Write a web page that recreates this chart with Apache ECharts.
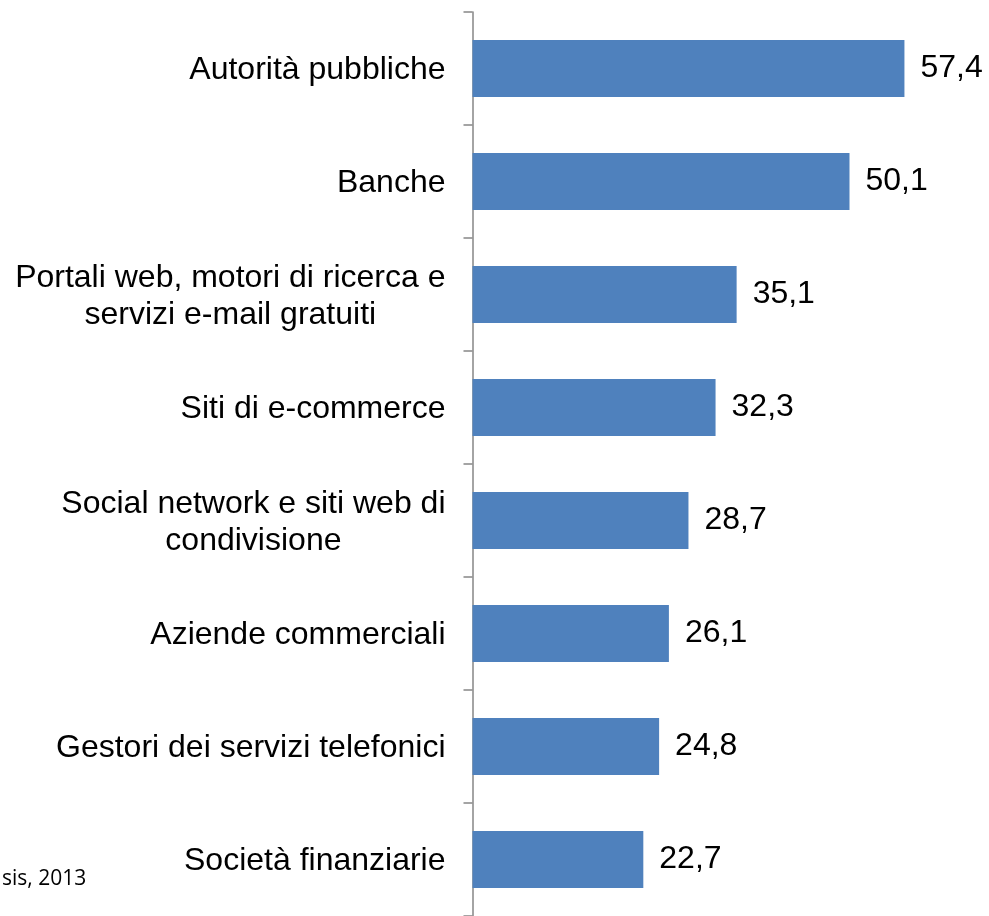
<!DOCTYPE html>
<html>
<head>
<meta charset="utf-8">
<script src="https://cdn.jsdelivr.net/npm/echarts@6/dist/echarts.min.js"></script>
<style>html,body{margin:0;padding:0;background:#fff}#c{width:989px;height:916px}</style>
</head>
<body>
<div id="c"></div>
<script>
const categories = [
  "Autorità pubbliche",
  "Banche",
  "Portali web, motori di ricerca e\nservizi e-mail gratuiti",
  "Siti di e-commerce",
  "Social network e siti web di\ncondivisione",
  "Aziende commerciali",
  "Gestori dei servizi telefonici",
  "Società finanziarie"
];
const values = [57.4, 50.1, 35.1, 32.3, 28.7, 26.1, 24.8, 22.7];
const sourceText = "sis, 2013";

const chart = echarts.init(document.getElementById('c'), null, {renderer: 'canvas'});
chart.setOption({
  animation: false,
  backgroundColor: '#ffffff',
  grid: {left: 472.5, top: 12, width: 451.5, height: 906, containLabel: false},
  xAxis: {type: 'value', min: 0, max: 60, show: false, splitLine: {show: false}},
  yAxis: {
    type: 'category',
    data: categories,
    inverse: true,
    axisLine: {show: true, lineStyle: {color: '#868686', width: 1.5}},
    axisTick: {show: true, length: 9, lineStyle: {color: '#868686', width: 1.5}},
    axisLabel: {
      margin: 27,
      color: '#000',
      fontFamily: 'Liberation Sans, Arial, sans-serif',
      fontSize: 32,
      lineHeight: 37,
      padding: [4, 0, 0, 0],
      formatter: function (v) {
        return v.split('\n').map(function (l) { return '{c|' + l + '}'; }).join('\n');
      },
      rich: {c: {align: 'center', fontSize: 32, lineHeight: 37, fontFamily: 'Liberation Sans, Arial, sans-serif', color: '#000'}}
    },
    splitLine: {show: false}
  },
  series: [{
    type: 'bar',
    data: values,
    barWidth: 57,
    itemStyle: {color: '#4F81BD'},
    label: {
      show: true,
      position: 'right',
      distance: 16,
      color: '#000',
      fontFamily: 'Liberation Sans, Arial, sans-serif',
      fontSize: 32,
      padding: [4, 0, 0, 0],
      formatter: function (p) { return p.value.toFixed(1).replace('.', ','); }
    }
  }],
  graphic: [{
    type: 'text',
    left: 2,
    top: 869,
    style: {text: sourceText, fill: '#000', font: '21px "Open Sans", sans-serif'}
  }]
});
</script>
</body>
</html>
